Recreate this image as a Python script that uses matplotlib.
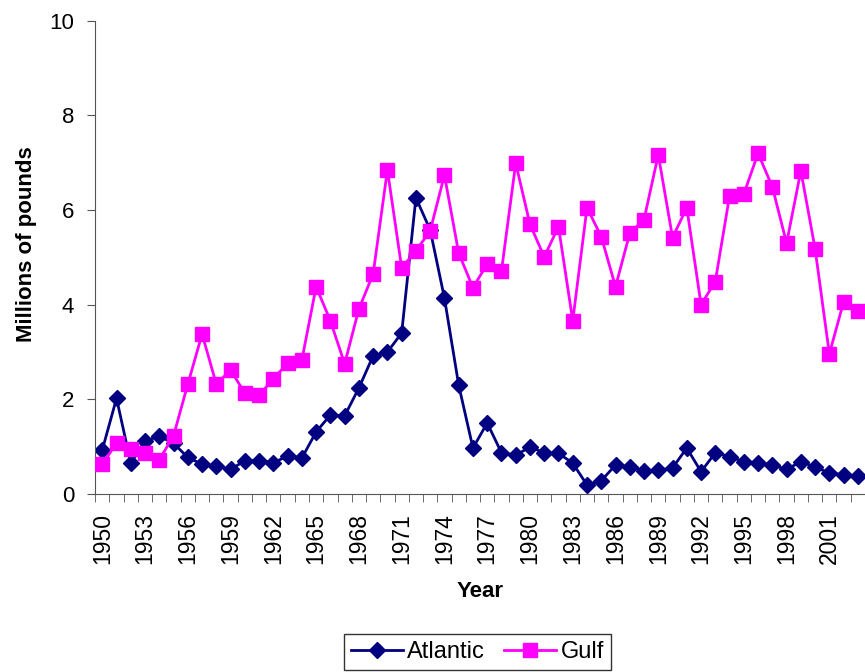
import matplotlib.pyplot as plt
from matplotlib.ticker import FixedLocator

years = list(range(1950, 2004))
atlantic = [0.93, 2.02, 0.65, 1.12, 1.22, 1.07, 0.77, 0.63, 0.59, 0.52,
            0.70, 0.70, 0.66, 0.80, 0.76, 1.31, 1.67, 1.65, 2.24, 2.92,
            3.00, 3.40, 6.26, 5.58, 4.14, 2.30, 0.97, 1.50, 0.87, 0.82,
            0.99, 0.87, 0.86, 0.65, 0.19, 0.28, 0.61, 0.57, 0.49, 0.50,
            0.55, 0.97, 0.47, 0.87, 0.79, 0.68, 0.66, 0.61, 0.52, 0.68,
            0.57, 0.44, 0.41, 0.38]
gulf = [0.63, 1.07, 0.94, 0.87, 0.72, 1.23, 2.32, 3.38, 2.32, 2.62,
        2.13, 2.09, 2.43, 2.77, 2.83, 4.38, 3.66, 2.75, 3.91, 4.65,
        6.85, 4.78, 5.14, 5.56, 6.74, 5.09, 4.36, 4.86, 4.71, 6.99,
        5.70, 5.01, 5.65, 3.66, 6.05, 5.44, 4.38, 5.51, 5.80, 7.17,
        5.42, 6.05, 4.00, 4.49, 6.30, 6.34, 7.20, 6.49, 5.30, 6.83,
        5.18, 2.96, 4.06, 3.87]

plt.rcParams['font.family'] = ['Liberation Sans', 'DejaVu Sans']

fig = plt.figure(figsize=(8.65, 6.72), dpi=100)
ax = fig.add_axes([0.11, 0.265, 0.89, 0.704])

# Excel draws the second series on top
x = list(range(len(years)))
ax.plot(x, atlantic, color='#000080', marker='D', markersize=8.5, linewidth=2,
        label='Atlantic', zorder=2)
ax.plot(x, gulf, color='#FF00FF', marker='s', markersize=10.5, linewidth=2,
        label='Gulf', zorder=3)

ax.set_xlim(-0.5, len(years) - 0.5)
ax.set_ylim(0, 10)
ax.set_yticks([0, 2, 4, 6, 8, 10])
ax.tick_params(axis='y', labelsize=16, length=6, direction='out', pad=9,
               color='#555555')

label_idx = list(range(0, len(years), 3))
ax.set_xticks(label_idx)
ax.set_xticklabels([str(years[i]) for i in label_idx], rotation=90, fontsize=16.5)
ax.tick_params(axis='x', which='major', length=0, pad=14)
ax.xaxis.set_minor_locator(FixedLocator([i - 0.5 for i in range(len(years) + 1)]))
ax.tick_params(axis='x', which='minor', length=6, direction='out', color='#555555')

for s in ['top', 'right']:
    ax.spines[s].set_visible(False)
ax.spines['left'].set_color('#555555')
ax.spines['bottom'].set_color('#555555')

ax.set_xlabel('Year', fontsize=16, fontweight='bold', labelpad=12)
ax.set_ylabel('Millions of pounds', fontsize=16, fontweight='bold')
ax.yaxis.set_label_coords(-0.076, 0.528)

leg = fig.legend(loc='lower center', bbox_to_anchor=(0.552, -0.015), ncol=2,
                 fontsize=17, frameon=True, fancybox=False, handlelength=2.2,
                 handletextpad=0.2, columnspacing=0.8, borderpad=0.3)
leg.get_frame().set_edgecolor('black')
leg.get_frame().set_linewidth(1)

fig.savefig('out.png', dpi=100)
